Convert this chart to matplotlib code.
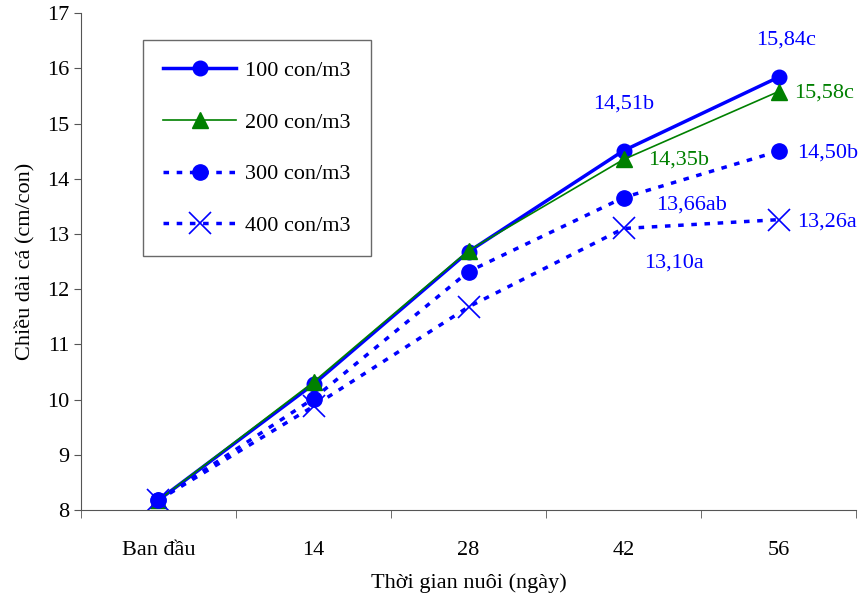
import matplotlib.pyplot as plt

plt.rcParams['font.family'] = ['Liberation Serif', 'DejaVu Serif']

ngay = ['Ban đầu', '14', '28', '42', '56']
mat_do_100 = [8.18, 10.28, 12.68, 14.51, 15.84]
mat_do_200 = [8.18, 10.32, 12.70, 14.35, 15.58]
mat_do_300 = [8.18, 10.02, 12.32, 13.66, 14.50]
mat_do_400 = [8.18, 9.88, 11.68, 13.10, 13.26]

nhan = ['15,84c', '15,58c', '14,51b', '14,35b', '14,50b', '13,66ab', '13,26a', '13,10a']

xanh = '#0000FF'
luc = '#008000'
co_chu = 16

fig = plt.figure(figsize=(8.58, 5.98), dpi=100)
ax = fig.add_axes([0.0944, 0.147, 0.9033, 0.831])

x = list(range(len(ngay)))
ax.plot(x, mat_do_100, color=xanh, lw=2.5, marker='o', ms=10.5, label='100 con/m3')
ax.plot(x, mat_do_200, color=luc, lw=1.2, marker='^', ms=11, label='200 con/m3')
ax.plot(x, mat_do_300, color=xanh, lw=2.5, ls=(0, (1.6, 2.2)), marker='o', ms=11,
        label='300 con/m3')
ax.plot(x, mat_do_400, color=xanh, lw=2.5, ls=(0, (1.6, 2.2)), marker='x', ms=16,
        mew=1.2, label='400 con/m3')

# nhan tren cac diem
ax.text(4.05, 16.51, nhan[0], color=xanh, fontsize=co_chu, ha='center', va='center')
ax.text(4.10, 15.55, nhan[1], color=luc, fontsize=co_chu, ha='left', va='center')
ax.text(3.00, 15.36, nhan[2], color=xanh, fontsize=co_chu, ha='center', va='center')
ax.text(3.16, 14.34, nhan[3], color=luc, fontsize=co_chu, ha='left', va='center')
ax.text(4.12, 14.47, nhan[4], color=xanh, fontsize=co_chu, ha='left', va='center')
ax.text(3.21, 13.53, nhan[5], color=xanh, fontsize=co_chu, ha='left', va='center')
ax.text(4.12, 13.22, nhan[6], color=xanh, fontsize=co_chu, ha='left', va='center')
ax.text(3.13, 12.47, nhan[7], color=xanh, fontsize=co_chu, ha='left', va='center')

ax.set_xlim(-0.5, 4.5)
ax.set_ylim(8, 17)
ax.set_yticks(range(8, 18))
ax.set_xticks(x)
ax.set_xticklabels(ngay)
ax.set_xticks([i + 0.5 for i in range(-1, 5)], minor=True)
ax.tick_params(axis='x', which='major', length=0, pad=22, labelsize=co_chu)
ax.tick_params(axis='x', which='minor', length=6, color='#555555')
ax.tick_params(axis='y', length=5, color='#555555', labelsize=co_chu)

for s in ['top', 'right']:
    ax.spines[s].set_visible(False)
for s in ['left', 'bottom']:
    ax.spines[s].set_color('#555555')

ax.set_ylabel('Chiều dài cá (cm/con)', fontsize=co_chu, labelpad=8)
ax.set_xlabel('Thời gian nuôi (ngày)', fontsize=co_chu, labelpad=10)

leg = ax.legend(loc='upper left', bbox_to_anchor=(0.08, 0.945), fontsize=co_chu,
                handlelength=3.3, handletextpad=0.4, labelspacing=1.4,
                borderpad=0.9, fancybox=False, edgecolor='#444444', borderaxespad=0)
leg.get_frame().set_linewidth(1.0)

fig.savefig('out.png', dpi=100)
